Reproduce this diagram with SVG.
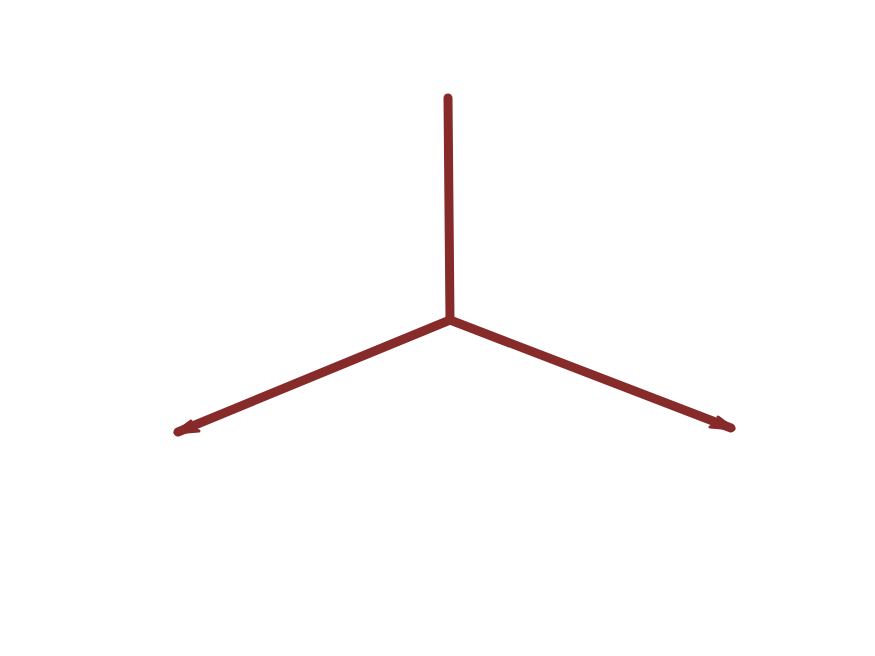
<svg xmlns="http://www.w3.org/2000/svg" width="875" height="656" viewBox="0 0 875 656">
<defs>
<style>
.c{stroke:#862a2a;stroke-width:9;stroke-linecap:round;stroke-linejoin:round;fill:none}
.h{fill:#862a2a;stroke:#862a2a;stroke-width:3;stroke-linejoin:round}
</style>
</defs>
<rect width="875" height="656" fill="#fff"/>
<g id="connectors">
<path class="c" d="M448,98 L450,320"/>
<path class="c" d="M450,320 L178,432"/>
<path class="c" d="M450,320 L731,428"/>
<path class="h" d="M175,433 L191,421 L189,428 L199,431 Z"/>
<path class="h" d="M734,429 L718,417 L720,424 L710,427 Z"/>
</g>
</svg>
